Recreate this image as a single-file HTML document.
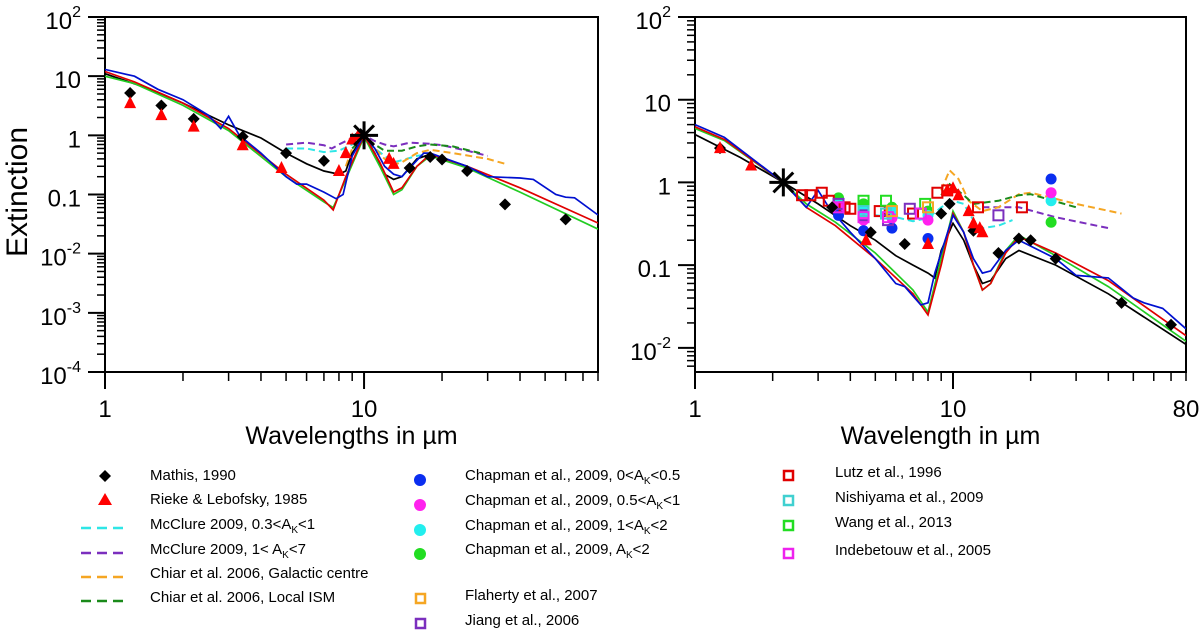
<!DOCTYPE html>
<html><head><meta charset="utf-8"><style>
body{margin:0;background:#fff;}
svg{display:block;font-family:"Liberation Sans",sans-serif;}
</style></head><body>
<svg id="chart" width="1200" height="633" viewBox="0 0 1200 633" xmlns="http://www.w3.org/2000/svg">
<g id="left"></g>
<g id="right"></g>
<g id="legend"></g>
</svg>
<script>
// ===== LEFT PANEL DATA =====
const L_blue=[[1,13],[1.3,10],[1.6,6],[2,4],[2.5,2.2],[2.8,1.3],[3,2.1],[3.3,1.0],[4,0.5],[5,0.2],[5.5,0.15],[6,0.15],[7,0.11],[7.8,0.085],[8.3,0.1],[9,0.45],[10,1.0],[11,0.6],[12,0.3],[13,0.22],[14,0.2],[15,0.28],[17,0.5],[18,0.5],[25,0.3],[30,0.2],[40,0.19],[45,0.18],[55,0.1],[60,0.09],[65,0.088],[80,0.045]];
const L_red=[[1,12],[1.3,8],[2,3.5],[3,1.3],[5,0.22],[7,0.08],[7.6,0.055],[8.5,0.2],[10,1.0],[11.5,0.35],[13,0.11],[14,0.13],[16,0.3],[18,0.48],[25,0.3],[40,0.13],[80,0.033]];
const L_green=[[1,10],[1.3,7.5],[2,3.2],[3,1.2],[5,0.2],[7,0.075],[7.6,0.06],[8.5,0.18],[10,0.95],[11.5,0.3],[13,0.1],[14,0.12],[16,0.3],[18,0.45],[25,0.28],[40,0.11],[80,0.026]];
const L_black=[[1,11],[1.5,6],[2,3.5],[3,1.5],[4,0.9],[5,0.5],[6,0.33],[7,0.25],[8,0.22],[8.5,0.25],[9,0.5],[10,1.0],[11,0.5],[12,0.22],[13,0.18],[14,0.2],[16,0.4],[18,0.48],[25,0.3]];
const L_purple=[[5,0.7],[6,0.75],[7,0.68],[7.5,0.6],[8,0.7],[9,0.9],[10,1.0],[11,0.8],[12,0.7],[13,0.65],[14,0.7],[15,0.75],[18,0.72],[20,0.68],[25,0.55],[30,0.45]];
const L_cyan=[[5,0.6],[6,0.6],[7,0.52],[8,0.55],[9,0.7],[10,0.9],[11,0.6],[12,0.45],[13,0.35],[14,0.38],[16,0.45],[18,0.48]];
const L_orange=[[8.5,0.3],[9,0.6],[10,1.0],[11,0.6],[12,0.4],[13,0.32],[14,0.35],[16,0.5],[18,0.57],[22,0.5],[30,0.4],[35,0.33]];
const L_dgreen=[[9,0.6],[10,0.95],[11,0.7],[12,0.55],[14,0.55],[16,0.65],[18,0.7],[22,0.65],[28,0.5]];
const L_mathis=[[1.25,5.2],[1.65,3.2],[2.2,1.9],[3.4,0.95],[5,0.5],[7,0.37],[9.7,1.05],[15,0.28],[18,0.43],[20,0.39],[25,0.25],[35,0.068],[60,0.038]];
const L_rieke=[[1.25,3.5],[1.65,2.2],[2.2,1.4],[3.4,0.68],[4.8,0.28],[8,0.25],[8.5,0.5],[9,0.85],[9.5,1.0],[12.5,0.4],[13,0.33]];
// ===== RIGHT PANEL DATA =====
const R_blue=[[1,5],[1.3,3.5],[2.2,1],[2.7,0.5],[3,0.8],[3.3,0.5],[4,0.25],[5,0.12],[6,0.06],[6.5,0.055],[7.5,0.033],[8,0.035],[8.5,0.08],[10,0.4],[11,0.25],[12,0.12],[13,0.08],[14,0.085],[16,0.15],[18,0.2],[25,0.12],[30,0.075],[40,0.07],[50,0.04],[55,0.035],[65,0.03],[80,0.017]];
const R_red=[[1,4.7],[1.3,3.3],[2.2,1],[2.7,0.5],[3.5,0.3],[5,0.12],[7,0.045],[8,0.025],[9,0.1],[10,0.42],[11,0.25],[12,0.1],[13,0.05],[14,0.06],[16,0.14],[18,0.22],[25,0.14],[40,0.065],[80,0.014]];
const R_green=[[1,4.5],[1.3,3.2],[2.2,1],[2.7,0.55],[3.5,0.33],[5,0.14],[7,0.05],[8,0.027],[9,0.12],[10,0.45],[11,0.25],[12,0.1],[13,0.05],[14,0.06],[16,0.15],[18,0.23],[25,0.13],[40,0.055],[80,0.012]];
const R_black=[[1,3.8],[1.5,2],[2.2,1],[3,0.55],[4,0.3],[5,0.2],[6,0.13],[7,0.1],[8,0.08],[8.5,0.07],[9,0.15],[10,0.32],[11,0.2],[12,0.1],[13,0.06],[14,0.065],[16,0.12],[18,0.15],[25,0.1],[40,0.045],[80,0.011]];
const R_orange=[[9,0.8],[9.7,1.4],[10.5,1.1],[11.5,0.6],[13,0.45],[15,0.5],[18,0.72],[20,0.75],[30,0.55],[45,0.42]];
const R_dgreen=[[9,0.7],[9.7,0.95],[11,0.7],[12,0.55],[15,0.6],[18,0.7],[20,0.72],[30,0.5]];
const R_purple=[[13,0.5],[15,0.5],[18,0.5],[25,0.38],[40,0.28]];
const R_cyan=[[5,0.4],[6,0.38],[7,0.34],[8,0.37],[9,0.5],[10,0.6],[11,0.55],[12,0.35],[13,0.28],[15,0.3],[17,0.35]];
const R_mathis=[[1.25,2.6],[3.4,0.5],[4.8,0.25],[6.5,0.18],[9,0.42],[9.7,0.55],[12,0.26],[15,0.14],[18,0.21],[20,0.2],[25,0.12],[45,0.035],[70,0.019]];
const R_rieke=[[1.25,2.6],[1.65,1.6],[4.6,0.2],[8,0.18],[9.5,0.8],[10,0.85],[10.5,0.7],[11.5,0.45],[12,0.32],[12.7,0.28],[13,0.25]];
const R_chapBlue=[[3.6,0.4],[4.5,0.26],[5.8,0.28],[8,0.21],[24,1.1]];
const R_chapMag=[[3.6,0.5],[4.5,0.35],[5.8,0.37],[8,0.35],[24,0.75]];
const R_chapCyan=[[3.6,0.55],[4.5,0.45],[5.8,0.45],[8,0.4],[24,0.6]];
const R_chapGreen=[[3.6,0.65],[4.5,0.55],[5.8,0.5],[8,0.45],[24,0.33]];
const R_lutz=[[2.6,0.7],[2.8,0.7],[3.1,0.75],[3.3,0.6],[3.8,0.5],[4.0,0.48],[5.2,0.45],[7,0.42],[8.7,0.75],[9.5,0.8],[12.5,0.5],[18.5,0.5]];
const R_wang=[[4.5,0.6],[5.5,0.6],[7.8,0.55]];
const R_jiang=[[3.6,0.55],[4.5,0.4],[5.6,0.35],[6.8,0.48],[15,0.4]];
const R_nishi=[[4.5,0.45],[5.5,0.42]];
const R_indeb=[[3.6,0.5],[4.5,0.38],[5.6,0.38],[7.5,0.42]];
const R_flah=[[5.8,0.45],[8,0.5]];

const NS="http://www.w3.org/2000/svg";
function mk(tag,attrs,parent,txt){const e=document.createElementNS(NS,tag);for(const k in attrs)e.setAttribute(k,attrs[k]);if(txt!==undefined)e.textContent=txt;parent.appendChild(e);return e;}

function panel(g,x0,x1,y0,y1,ymin,ymax,xmax,xlabel,yticks,xticklabels){
  const lx=v=>x0+(x1-x0)*Math.log10(v)/Math.log10(xmax);
  const ly=v=>y1-(y1-y0)*(Math.log10(v)-Math.log10(ymin))/(Math.log10(ymax)-Math.log10(ymin));
  const frame=mk('rect',{x:x0,y:y0,width:x1-x0,height:y1-y0,fill:'none',stroke:'#000','stroke-width':2},g);
  
  for(let d=Math.floor(Math.log10(ymin));d<=Math.log10(ymax);d++){
    for(let m=1;m<10;m++){const v=m*Math.pow(10,d);if(v<ymin*0.999||v>ymax*1.001)continue;
      const y=ly(v);const len=m===1?17:8;
      const t=mk('line',{x1:x0-len,x2:x0,y1:y,y2:y,stroke:'#000','stroke-width':m===1?2:1.5},g);
      }
  }
  yticks.forEach(([v,base,exp])=>{
    const t=mk('text',{x:x0-24,y:ly(v)+12,'text-anchor':'end','font-size':24},g);
    
    mk('tspan',{},t,base);
    if(exp!==undefined){mk('tspan',{dy:-12,'font-size':16},t,exp);}
  });
  for(let d=0;d<=1;d++)for(let m=1;m<10;m++){const v=m*Math.pow(10,d);if(v>xmax)continue;
    const x=lx(v);const len=m===1?17:9;
    const t=mk('line',{x1:x,x2:x,y1:y1,y2:y1+len,stroke:'#000','stroke-width':m===1?2:1.5},g);
    }
  xticklabels.forEach(v=>{const t=mk('text',{x:lx(v),y:y1+45,'text-anchor':'middle','font-size':24},g,String(v));
    });
  const xl=mk('text',{x:(x0+x1)/2,y:y1+72,'text-anchor':'middle','font-size':25},g,xlabel);
  
  const clip='clip'+x0;
  const cp=mk('clipPath',{id:clip},g);mk('rect',{x:x0,y:y0,width:x1-x0,height:y1-y0},cp);
  const pg=mk('g',{'clip-path':'url(#'+clip+')'},g);
  
  return {lx,ly,pg};
}
function line(P,data,color,name,dash){
  const d=data.map((p,i)=>(i?'L':'M')+P.lx(p[0]).toFixed(1)+' '+P.ly(p[1]).toFixed(1)).join(' ');
  const e=mk('path',{d:d,fill:'none',stroke:color,'stroke-width':dash?2:1.7},P.pg);
  if(dash)e.setAttribute('stroke-dasharray','7 4');
  
}
function markers(P,data,type,color,name){
  data.forEach(p=>{const x=P.lx(p[0]),y=P.ly(p[1]);let e;
    if(type==='diamond')e=mk('path',{d:`M${x} ${y-6}L${x+6} ${y}L${x} ${y+6}L${x-6} ${y}Z`,fill:'#000'},P.pg);
    else if(type==='tri')e=mk('path',{d:`M${x} ${y-7}L${x+6} ${y+5}L${x-6} ${y+5}Z`,fill:'#f00'},P.pg);
    else if(type==='circle')e=mk('circle',{cx:x,cy:y,r:5.5,fill:color},P.pg);
    else e=mk('rect',{x:x-5,y:y-5,width:10,height:10,fill:'none',stroke:color,'stroke-width':2},P.pg);
    });
}
function star(P,v,a){const x=P.lx(v),y=P.ly(a);const g=mk('g',{stroke:'#000','stroke-width':3},P.pg);
  
  for(let k=0;k<4;k++){const an=k*Math.PI/4;mk('line',{x1:x-14*Math.cos(an),y1:y-14*Math.sin(an),x2:x+14*Math.cos(an),y2:y+14*Math.sin(an)},g);}}

const gl=document.getElementById('left');
const PL=panel(gl,105,598,17,372,1e-4,100,80,'Wavelengths in µm',[[100,'10','2'],[10,'10'],[1,'1'],[0.1,'0.1'],[0.01,'10','-2'],[0.001,'10','-3'],[0.0001,'10','-4']],[1,10]);
const yt=mk('text',{x:0,y:0,'font-size':30,'text-anchor':'middle',transform:'translate(27,192) rotate(-90)'},gl,'Extinction');

line(PL,L_purple,'#7b2fbe','mcclure-high-line',1);line(PL,L_cyan,'#2ee6e6','mcclure-low-line',1);
line(PL,L_orange,'#f5a623','chiar-gc-line',1);line(PL,L_dgreen,'#1a8a1a','chiar-ism-line',1);
line(PL,L_black,'#000','model-black-line');line(PL,L_green,'#22cc22','model-green-line');
line(PL,L_red,'#e00000','model-red-line');line(PL,L_blue,'#0010d0','model-blue-line');
markers(PL,L_mathis,'diamond','#000','mathis-point');markers(PL,L_rieke,'tri','#f00','rieke-point');
star(PL,10,1);

const gr=document.getElementById('right');
const PR=panel(gr,695,1186,17,372,0.0051,100,80,'Wavelength in µm',[[100,'10','2'],[10,'10'],[1,'1'],[0.1,'0.1'],[0.01,'10','-2']],[1,10,80]);
line(PR,R_purple,'#7b2fbe','mcclure-high-line',1);line(PR,R_cyan,'#2ee6e6','mcclure-low-line',1);
line(PR,R_orange,'#f5a623','chiar-gc-line',1);line(PR,R_dgreen,'#1a8a1a','chiar-ism-line',1);
line(PR,R_black,'#000','model-black-line');line(PR,R_green,'#22cc22','model-green-line');
line(PR,R_red,'#e00000','model-red-line');line(PR,R_blue,'#0010d0','model-blue-line');
markers(PR,R_chapGreen,'circle','#22dd22','chapman-ak2-point');markers(PR,R_chapCyan,'circle','#22eeee','chapman-1-2-point');
markers(PR,R_chapMag,'circle','#ff22ee','chapman-05-1-point');markers(PR,R_chapBlue,'circle','#0a2ef0','chapman-0-05-point');
markers(PR,R_lutz,'sq','#e00000','lutz-point');markers(PR,R_wang,'sq','#22dd22','wang-point');
markers(PR,R_jiang,'sq','#7b2fbe','jiang-point');markers(PR,R_nishi,'sq','#40d0d0','nishiyama-point');
markers(PR,R_indeb,'sq','#ee22ee','indebetouw-point');markers(PR,R_flah,'sq','#f5a623','flaherty-point');
markers(PR,R_mathis,'diamond','#000','mathis-point');markers(PR,R_rieke,'tri','#f00','rieke-point');
star(PR,2.2,1);

// ===== LEGEND =====
const lg=document.getElementById('legend');
const legItems=[
 [105,150,474,'diamond','#000','Mathis, 1990'],
 [105,150,498,'tri','#f00','Rieke & Lebofsky, 1985'],
 [105,150,523,'dash','#2ee6e6','McClure 2009, 0.3<A|K|<1'],
 [105,150,548,'dash','#7b2fbe','McClure 2009, 1< A|K|<7'],
 [105,150,572,'dash','#f5a623','Chiar et al. 2006, Galactic centre'],
 [105,150,596,'dash','#1a8a1a','Chiar et al. 2006, Local ISM'],
 [420,465,474,'circle','#0a2ef0','Chapman et al., 2009, 0<A|K|<0.5'],
 [420,465,499,'circle','#ff22ee','Chapman et al., 2009, 0.5<A|K|<1'],
 [420,465,524,'circle','#22eeee','Chapman et al., 2009, 1<A|K|<2'],
 [420,465,548,'circle','#22dd22','Chapman et al., 2009, A|K|<2'],
 [420,465,594,'sq','#f5a623','Flaherty et al., 2007'],
 [420,465,619,'sq','#7b2fbe','Jiang et al., 2006'],
 [788,835,471,'sq','#e00000','Lutz et al., 1996'],
 [788,835,496,'sq','#40d0d0','Nishiyama et al., 2009'],
 [788,835,521,'sq','#22dd22','Wang et al., 2013'],
 [788,835,549,'sq','#ee22ee','Indebetouw et al., 2005']];
legItems.forEach(([mx,tx,y,type,col,label])=>{
  const g=mk('g',{},lg);
  
  
  const yy=y+2;
  if(type==='diamond')mk('path',{d:`M${mx} ${yy-6}L${mx+6} ${yy}L${mx} ${yy+6}L${mx-6} ${yy}Z`,fill:'#000'},g);
  else if(type==='tri')mk('path',{d:`M${mx} ${yy-7}L${mx+7} ${yy+5}L${mx-7} ${yy+5}Z`,fill:'#f00'},g);
  else if(type==='circle')mk('circle',{cx:mx,cy:yy+4,r:6,fill:col},g);
  else if(type==='sq')mk('rect',{x:mx-4,y:yy-2,width:9,height:9,fill:'none',stroke:col,'stroke-width':2.5},g);
  else mk('line',{x1:mx-24,x2:mx+18,y1:yy+3,y2:yy+3,stroke:col,'stroke-width':2.5,'stroke-dasharray':'10 6'},g);
  const t=mk('text',{x:tx,y:y+6,'font-size':15},g);
  const parts=label.split('|');
  mk('tspan',{},t,parts[0]);
  if(parts.length>1){mk('tspan',{dy:4,'font-size':10},t,parts[1]);mk('tspan',{dy:-4},t,parts[2]);}
});
</script>
</body></html>
